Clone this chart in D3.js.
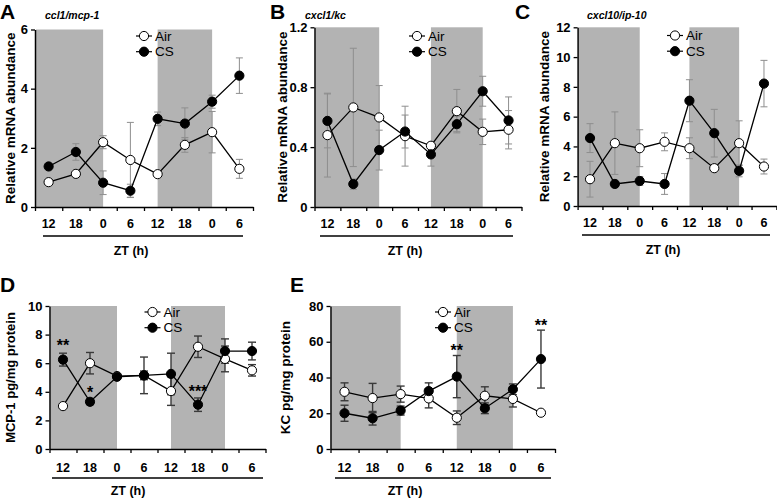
<!DOCTYPE html>
<html><head><meta charset="utf-8">
<script src="https://cdn.jsdelivr.net/npm/d3@7"></script>
<style>
body{margin:0;background:#fff}
svg{display:block}
text{font-family:"Liberation Sans",Arial,Helvetica,sans-serif;fill:#000}
</style>
</head><body>
<svg id="chart" width="777" height="498"></svg>
<script>
// ---------- data ----------
const xLabels = ["12","18","0","6","12","18","0","6"];

const airA = [0.84, 1.12, 2.19, 1.59, 1.11, 2.10, 2.53, 1.29];
const airAErr = [0.05, 0.05, 0.22, 1.27, 0.06, 0.25, 0.70, 0.32];
const csA = [1.37, 1.86, 0.82, 0.55, 2.98, 2.82, 3.56, 4.44];
const csAErr = [0.06, 0.28, 0.40, 0.22, 0.23, 0.53, 0.22, 0.60];

const airB = [0.48, 0.665, 0.598, 0.473, 0.409, 0.64, 0.502, 0.516];
const airBErr = [0.28, 0.395, 0.213, 0.20, 0.02, 0.145, 0.085, 0.128];
const csB = [0.575, 0.153, 0.38, 0.504, 0.351, 0.553, 0.773, 0.578];
const csBErr = [0.18, 0.035, 0.133, 0.11, 0.078, 0.05, 0.10, 0.157];

const airC = [1.80, 4.22, 3.88, 4.31, 3.88, 2.54, 4.22, 2.65];
const airCErr = [1.20, 2.10, 1.24, 0.60, 0.70, 0.20, 1.50, 0.50];
const csC = [4.56, 1.48, 1.68, 1.48, 7.07, 4.89, 2.36, 8.22];
const csCErr = [0.97, 0.20, 0.30, 0.70, 1.41, 1.60, 0.40, 1.56];

const airD = [3.0, 6.0, 5.1, 5.15, 4.05, 7.15, 6.3, 5.5];
const airDErr = [0.1, 0.75, 0.15, 1.28, 1.0, 0.75, 0.9, 0.4];
const csD = [6.25, 3.3, 5.05, 5.15, 5.25, 3.1, 6.85, 6.85];
const csDErr = [0.45, 0.2, 0.15, 0.3, 1.45, 0.47, 0.85, 0.62];

const airE = [32.0, 28.5, 30.7, 28.3, 17.5, 29.8, 28.0, 20.3];
const airEErr = [5.0, 8.2, 4.5, 5.3, 3.8, 5.0, 4.5, 0.5];
const csE = [20.0, 17.2, 21.5, 32.4, 40.5, 22.8, 33.4, 50.3];
const csEErr = [4.5, 3.8, 2.5, 4.6, 11.8, 3.0, 3.0, 16.2];

const yTicksA = [0, 2, 4, 6];
const yTicksB = [0, 0.4, 0.8, 1.2];
const yTicksC = [0, 2, 4, 6, 8, 10, 12];
const yTicksD = [0, 2, 4, 6, 8, 10];
const yTicksE = [0, 20, 40, 60, 80];

// dark phases in category-index units (from, to)
const darkFrom = [-0.5, 4];
const darkTo = [2, 6];

// significance marks: index, mark, value level
const sigD = [{i: 0, t: "**", v: 7.5}, {i: 1, t: "*", v: 4.2}, {i: 5, t: "***", v: 4.3}];
const sigE = [{i: 4, t: "**", v: 57.2}, {i: 7, t: "**", v: 71.2}];

const seriesNames = ["Air", "CS"];

// ---------- layout ----------
const panels = [
  {letter: "A", title: "ccl1/mcp-1", yTitle: "Relative mRNA abundance", air: airA, airErr: airAErr, cs: csA, csErr: csAErr,
   yMax: 6, yTicks: yTicksA, fmt: d3.format("d"), x0: 35, x1: 253, yT: 29.5, yB: 207,
   letterX: 0, letterY: 18.5, titleX: 45, titleY: 19, yTitleX: 10, yTitleSize: 13.5,
   legX: 144, legY: 36, ulX0: 43, ulX1: 243, ztX: 131, labDy: 21, ztDy: 48, err: "top", sig: []},
  {letter: "B", title: "cxcl1/kc", yTitle: "Relative mRNA abundance", air: airB, airErr: airBErr, cs: csB, csErr: csBErr,
   yMax: 1.2, yTicks: yTicksB, fmt: d => d === 0 ? "0" : d3.format(".1f")(d), x0: 314.5, x1: 521.5, yT: 27.3, yB: 207,
   letterX: 270, letterY: 18.5, titleX: 305, titleY: 19, yTitleX: 282, yTitleSize: 13.5,
   legX: 417, legY: 36, ulX0: 320, ulX1: 513, ztX: 405, labDy: 21, ztDy: 48, err: "top", sig: []},
  {letter: "C", title: "cxcl10/ip-10", yTitle: "Relative mRNA abundance", air: airC, airErr: airCErr, cs: csC, csErr: csCErr,
   yMax: 12, yTicks: yTicksC, fmt: d3.format("d"), x0: 577.6, x1: 776.4, yT: 27.3, yB: 206,
   letterX: 515, letterY: 18.5, titleX: 587, titleY: 19, yTitleX: 544, yTitleSize: 13.5,
   legX: 675, legY: 35.5, ulX0: 582, ulX1: 770, ztX: 663, labDy: 21, ztDy: 48, err: "top", sig: []},
  {letter: "D", title: "", yTitle: "MCP-1 pg/mg protein", air: airD, airErr: airDErr, cs: csD, csErr: csDErr,
   yMax: 10, yTicks: yTicksD, fmt: d3.format("d"), x0: 49.5, x1: 265.5, yT: 306, yB: 449,
   letterX: 0, letterY: 292, titleX: 0, titleY: 0, yTitleX: 10, yTitleSize: 13,
   legX: 152.5, legY: 312, ulX0: 52, ulX1: 263, ztX: 128, labDy: 23, ztDy: 46, err: "bottom", sig: sigD},
  {letter: "E", title: "", yTitle: "KC pg/mg protein", air: airE, airErr: airEErr, cs: csE, csErr: csEErr,
   yMax: 80, yTicks: yTicksE, fmt: d3.format("d"), x0: 330.5, x1: 555, yT: 306, yB: 449,
   letterX: 290, letterY: 292, titleX: 0, titleY: 0, yTitleX: 285, yTitleSize: 13.5,
   legX: 443, legY: 312, ulX0: 335, ulX1: 551, ztX: 405, labDy: 23, ztDy: 46, err: "bottom", sig: sigE}
];

const svg = d3.select("#chart");
const shadeColor = "#b3b3b3";

function drawPanel(p) {
  const g = svg.append("g");
  const n = xLabels.length;
  const x = d3.scaleLinear().domain([-0.5, n - 0.5]).range([p.x0, p.x1]);
  const y = d3.scaleLinear().domain([0, p.yMax]).range([p.yB, p.yT]);

  // shading
  darkFrom.forEach((f, k) => {
    const xa = x(f) + (f < 0 ? 1 : 0), xb = x(darkTo[k]);
    g.append("rect").attr("x", xa).attr("y", p.yT).attr("width", xb - xa).attr("height", p.yB - p.yT).attr("fill", shadeColor);
  });

  // y axis
  const ya = g.append("g").attr("transform", `translate(${p.x0},0)`)
    .call(d3.axisLeft(y).tickValues(p.yTicks).tickFormat(p.fmt).tickSize(4).tickSizeOuter(0).tickPadding(3));
  ya.select(".domain").attr("stroke", "#000").attr("stroke-width", 1.5);
  ya.selectAll(".tick line").attr("stroke", "#000").attr("stroke-width", 1.3);
  ya.selectAll(".tick text").attr("font-size", 13).attr("font-weight", "bold").attr("font-family", '"Liberation Sans",Arial,sans-serif');

  // x axis (ticks between categories)
  const xa = g.append("g").attr("transform", `translate(0,${p.yB})`)
    .call(d3.axisBottom(x).tickValues(d3.range(-0.5, n, 1)).tickFormat("").tickSize(4).tickSizeOuter(0));
  xa.select(".domain").attr("stroke", "#000").attr("stroke-width", 1.5);
  xa.selectAll(".tick line").attr("stroke", "#000").attr("stroke-width", 1.3);

  // x labels
  g.selectAll(".xl").data(xLabels).enter().append("text")
    .attr("x", (d, i) => x(i)).attr("y", p.yB + p.labDy)
    .attr("text-anchor", "middle").attr("font-size", 12.5).attr("font-weight", "bold").text(d => d);

  // underline + ZT label
  g.append("line").attr("x1", p.ulX0).attr("x2", p.ulX1).attr("y1", p.yB + 29).attr("y2", p.yB + 29)
    .attr("stroke", "#000").attr("stroke-width", 1.6);
  g.append("text").attr("x", p.ztX).attr("y", p.yB + p.ztDy).attr("text-anchor", "middle")
    .attr("font-size", 12.5).attr("font-weight", "bold").text("ZT (h)");

  // y title
  g.append("text").attr("transform", `translate(${p.yTitleX},${(p.yT + p.yB) / 2}) rotate(-90)`)
    .attr("text-anchor", "middle").attr("dy", "0.36em").attr("font-size", p.yTitleSize).attr("font-weight", "bold").text(p.yTitle);

  // letter and title
  g.append("text").attr("x", p.letterX).attr("y", p.letterY).attr("font-size", 21).attr("font-weight", "bold").text(p.letter);
  if (p.title) g.append("text").attr("x", p.titleX).attr("y", p.titleY).attr("font-size", 10.5)
    .attr("font-weight", "bold").attr("font-style", "italic").text(p.title);

  // error bars
  const errCol = p.err === "top" ? "#8e8e8e" : "#3a3a3a";
  const errW = p.err === "top" ? 1 : 1.4;
  const cap = p.err === "top" ? 3.5 : 4;
  [[p.air, p.airErr], [p.cs, p.csErr]].forEach(([vals, errs]) => {
    vals.forEach((v, i) => {
      const lo = y(v - errs[i]), hi = y(v + errs[i]), cx = x(i);
      g.append("line").attr("x1", cx).attr("x2", cx).attr("y1", lo).attr("y2", hi).attr("stroke", errCol).attr("stroke-width", errW);
      [lo, hi].forEach(yy => g.append("line").attr("x1", cx - cap).attr("x2", cx + cap).attr("y1", yy).attr("y2", yy)
        .attr("stroke", errCol).attr("stroke-width", errW));
    });
  });

  // lines and points
  const line = d3.line().x((d, i) => x(i)).y(d => y(d));
  [[p.air, "#fff"], [p.cs, "#000"]].forEach(([vals, fill]) => {
    g.append("path").attr("d", line(vals)).attr("fill", "none").attr("stroke", "#000").attr("stroke-width", 1.3);
    g.selectAll(null).data(vals).enter().append("circle")
      .attr("cx", (d, i) => x(i)).attr("cy", d => y(d)).attr("r", 4.6)
      .attr("fill", fill).attr("stroke", "#000").attr("stroke-width", 1);
  });

  // significance
  p.sig.forEach(s => {
    g.append("text").attr("x", x(s.i)).attr("y", y(s.v) + 9).attr("text-anchor", "middle")
      .attr("font-size", 16).attr("font-weight", "bold").text(s.t);
  });

  // legend
  seriesNames.forEach((name, k) => {
    const ly = p.legY + k * 15.7;
    g.append("line").attr("x1", p.legX - 8).attr("x2", p.legX + 8).attr("y1", ly).attr("y2", ly).attr("stroke", "#000").attr("stroke-width", 1.2);
    g.append("circle").attr("cx", p.legX).attr("cy", ly).attr("r", 4.6).attr("fill", k === 0 ? "#fff" : "#000").attr("stroke", "#000");
    g.append("text").attr("x", p.legX + 11).attr("y", ly + 4.7).attr("font-size", 13.5).text(name);
  });
}

panels.forEach(drawPanel);
</script>
</body></html>
